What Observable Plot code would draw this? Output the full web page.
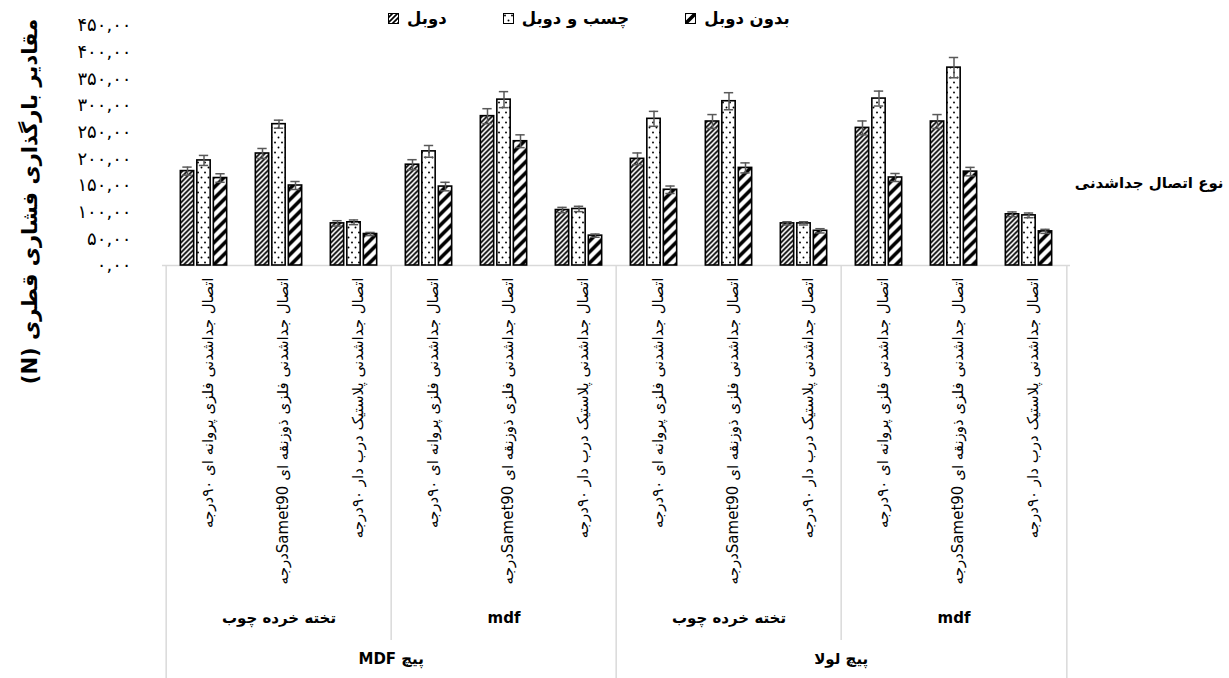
<!DOCTYPE html>
<html><head><meta charset="utf-8">
<script src="https://cdn.jsdelivr.net/npm/d3@7"></script>
<script src="https://cdn.jsdelivr.net/npm/@observablehq/plot@0.6"></script>
<style>
body{margin:0;background:#fff;font-family:"DejaVu Sans",sans-serif;}
#wrap{position:relative;width:1229px;height:678px;overflow:hidden;}
#legend{position:absolute;top:9px;left:388px;display:flex;gap:56px;font-weight:bold;font-size:16.5px;color:#000;align-items:center;}
#legend .item{display:flex;align-items:center;gap:8px;}
#wrap svg.plot g[aria-label="y-axis tick label"] text{letter-spacing:3.5px;}
</style></head><body>
<svg width="0" height="0" style="position:absolute">
  <defs>
    <pattern id="hatchDense" patternUnits="userSpaceOnUse" width="5" height="5">
      <rect width="5" height="5" fill="#fff"/>
      <path d="M-1.25,1.25 l2.5,-2.5 M0,5 l5,-5 M3.75,6.25 l2.5,-2.5" stroke="#000" stroke-width="1.7"/>
    </pattern>
    <pattern id="dots" patternUnits="userSpaceOnUse" width="7" height="10">
      <rect width="7" height="10" fill="#fff"/>
      <circle cx="2" cy="2.5" r="0.95" fill="#000"/>
      <circle cx="5.5" cy="7.5" r="0.95" fill="#000"/>
    </pattern>
    <pattern id="hatchWide" patternUnits="userSpaceOnUse" width="11" height="11">
      <rect width="11" height="11" fill="#fff"/>
      <path d="M-2.75,2.75 l5.5,-5.5 M0,11 l11,-11 M8.25,13.75 l5.5,-5.5" stroke="#000" stroke-width="3.6"/>
    </pattern>
  </defs>
</svg>
<div id="wrap"><div id="legend"></div></div>
<script>
// ---- data ----
const screws = ["پیچ MDF", "پیچ لولا"];
const materials = ["تخته خرده چوب", "mdf"];
const joints = [
  "اتصال جداشدنی فلزی پروانه ای ۹۰درجه",
  "اتصال جداشدنی فلزی ذوزنقه ای Samet90درجه",
  "اتصال جداشدنی پلاستیک درب دار ۹۰درجه"
];
const seriesNames = ["دوبل", "چسب و دوبل", "بدون دوبل"];
// values in category order: screw -> material -> joint
const dowel     = [177, 210, 79, 189, 280, 104, 200, 270, 79, 258, 270, 96];
const glueDowel = [197, 265, 81, 214, 311, 106, 275, 308, 79, 313, 371, 94];
const noDowel   = [164, 150, 59, 148, 233, 56, 142, 183, 65, 165, 176, 64];
const errDowel  = [7.5, 9.4, 5, 9.4, 14, 5, 11, 13, 3, 13, 13, 4.4];
const errGlue   = [9.4, 7.5, 4.4, 11, 15, 5, 14, 16, 3, 14, 19, 4.4];
const errNo     = [8, 7.5, 3, 8, 12, 3, 7, 9.4, 4, 7.5, 8, 3.8];
const yTicks = [0, 50, 100, 150, 200, 250, 300, 350, 400, 450];
const yTitle = "مقادیر بارگذاری فشاری قطری (N)";
const xTitle = "نوع اتصال جداشدنی";

// ---- build tables ----
const RLE = "\u202B", PDF = "\u202C";
const rtl = s => RLE + s + PDF;
const cats = [];
screws.forEach(s => materials.forEach(m => joints.forEach(j => cats.push({screw: s, material: m, joint: j, key: `${s}|${m}|${j}`}))));
const keys = cats.map(d => d.key);
const seriesVals = [dowel, glueDowel, noDowel];
const seriesErr = [errDowel, errGlue, errNo];
const fills = ["url(#hatchDense)", "url(#dots)", "url(#hatchWide)"];
const rowsBySeries = seriesNames.map((name, i) => cats.map((c, k) => ({...c, series: name, value: seriesVals[i][k], err: seriesErr[i][k]})));
const materialRows = [];
screws.forEach(s => materials.forEach(m => materialRows.push({screw: s, material: m, key: `${s}|${m}|${joints[1]}`})));
const screwRows = screws.map(s => ({screw: s, key: `${s}|${materials[1]}|${joints[0]}`}));

// ---- layout ----
const W = 1229, H = 678;
const mL = 162, mR = 159, mT = 25, mB = 413;
const step = (W - mL - mR) / keys.length;
const barW = 14, barOff = 16.5, capW = 10;
const offs = [-barOff, 0, barOff];
const fa = n => String(n).replace(/\d/g, d => "۰۱۲۳۴۵۶۷۸۹"[d]);
const grey = "#d9d9d9";

const marks = [
  Plot.ruleY([0], {stroke: grey, strokeWidth: 1.5}),
  // category box lines
  Plot.ruleX([keys[0], keys[6]], {x: d => d, dx: -step / 2, insetTop: H - mB - mT, insetBottom: -mB, stroke: grey, strokeWidth: 1.5}),
  Plot.ruleX([keys[3], keys[9]], {x: d => d, dx: -step / 2, insetTop: H - mB - mT, insetBottom: -375, stroke: grey, strokeWidth: 1.5}),
  Plot.ruleX([keys[11]], {x: d => d, dx: step / 2, insetTop: H - mB - mT, insetBottom: -mB, stroke: grey, strokeWidth: 1.5}),
  Plot.axisY({ticks: yTicks, tickFormat: d => fa(d) + ",۰۰", tickSize: 0, tickPadding: 31, fontSize: 18, label: null})
];
rowsBySeries.forEach((rows, i) => {
  marks.push(Plot.barY(rows, {x: "key", y: "value", fill: fills[i], stroke: "#000", strokeWidth: 1.6,
    insetLeft: (step - barW) / 2, insetRight: (step - barW) / 2, dx: offs[i]}));
});
rowsBySeries.forEach((rows, i) => {
  marks.push(Plot.ruleX(rows, {x: "key", y1: d => d.value - d.err, y2: d => d.value + d.err, dx: offs[i], stroke: "#595959", strokeWidth: 1.5}));
  marks.push(Plot.tickY(rows, {x: "key", y: d => d.value + d.err, dx: offs[i], insetLeft: (step - capW) / 2, insetRight: (step - capW) / 2, stroke: "#595959", strokeWidth: 1.5}));
  marks.push(Plot.tickY(rows, {x: "key", y: d => d.value - d.err, dx: offs[i], insetLeft: (step - capW) / 2, insetRight: (step - capW) / 2, stroke: "#595959", strokeWidth: 1.5}));
});
marks.push(
  Plot.text(cats, {x: "key", text: d => rtl(d.joint), frameAnchor: "bottom", dy: 12, dx: 4, rotate: -90, textAnchor: "end", lineAnchor: "middle", fontSize: 15}),
  Plot.text(materialRows, {x: "key", text: d => rtl(d.material), frameAnchor: "bottom", dy: 357, fontSize: 15, fontWeight: "bold"}),
  Plot.text(screwRows, {x: "key", text: d => rtl(d.screw), frameAnchor: "bottom", dy: 398, dx: -step / 2, fontSize: 15, fontWeight: "bold"}),
  Plot.text([yTitle], {text: d => rtl(d), frameAnchor: "left", dx: -132, dy: 56, rotate: -90, textAnchor: "middle", fontSize: 21, fontWeight: "bold"}),
  Plot.text([xTitle], {text: d => rtl(d), frameAnchor: "right", dx: 153, dy: 38, textAnchor: "end", fontSize: 15, fontWeight: "bold"})
);

const chart = Plot.plot({
  width: W, height: H,
  marginLeft: mL, marginRight: mR, marginTop: mT, marginBottom: mB,
  x: {domain: keys, padding: 0, axis: null},
  y: {domain: [0, 450], axis: null},
  style: {fontFamily: "DejaVu Sans, sans-serif", color: "#000", background: "transparent", overflow: "visible"},
  marks
});
document.getElementById("wrap").appendChild(chart);

// legend
const legend = document.getElementById("legend");
seriesNames.forEach((name, i) => {
  const item = document.createElement("div");
  item.className = "item";
  item.innerHTML = `<svg width="11" height="11"><rect x="0.5" y="0.5" width="10" height="10" fill="${fills[i]}" stroke="#000" stroke-width="1"/></svg><span dir="rtl">${name}</span>`;
  legend.appendChild(item);
});
</script>
</body></html>
